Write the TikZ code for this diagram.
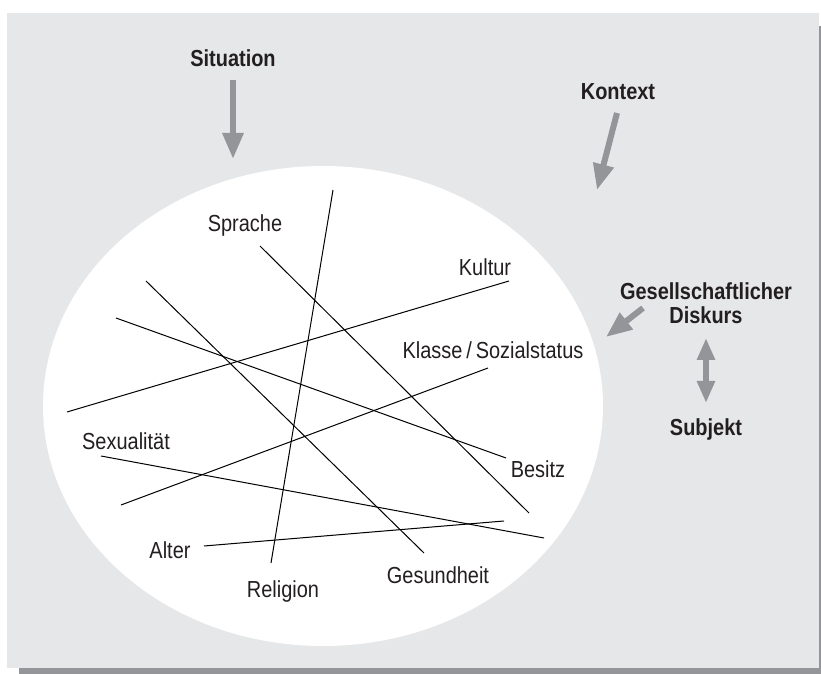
\documentclass[tikz,border=0pt]{standalone}
\usepackage{fontspec}
\setmainfont{Liberation Sans}[FakeStretch=0.86]
\usetikzlibrary{arrows.meta}
\definecolor{panelgray}{HTML}{E6E7E8}
\definecolor{arrowgray}{HTML}{939598}
\definecolor{inkc}{HTML}{231F20}
\tikzset{
  lbl/.style={text=inkc, font=\fontsize{11.6}{13}\selectfont, inner sep=0pt},
  head/.style={text=inkc, font=\fontsize{11.6}{13}\selectfont\bfseries, inner sep=0pt, align=center},
  thin line/.style={draw=black, line width=0.5pt},
  grayarrow/.style={draw=arrowgray, line width=3pt, -{Triangle[width=10pt,length=13pt]}},
  dblarrow/.style={draw=arrowgray, line width=3pt, {Triangle[width=8.5pt,length=11pt]}-{Triangle[width=8.5pt,length=11pt]}}
}
\begin{document}
\begin{tikzpicture}[x=0.5pt,y=-0.5pt]
\useasboundingbox (0,0) rectangle (821,674);
% panel and shadow
\fill[arrowgray] (19,666) rectangle (821,674);
\fill[arrowgray] (818,26) rectangle (821,674);
\fill[panelgray] (7,13) rectangle (819,668);
% ellipse
\fill[white] (323,406) ellipse [x radius=280, y radius=240];

% labels
\node[head] (situation) at (233,58) {Situation};
\node[head] (kontext) at (618,92) {Kontext};
\node[head] (gesell) at (706,303) {Gesellschaftlicher\\[-1pt]Diskurs};
\node[head] (subjekt) at (706,430) {Subjekt};
\node[lbl] (sprache) at (245,226) {Sprache};
\node[lbl] (kultur) at (485,267) {Kultur};
\node[lbl] (klasse) at (493,350) {Klasse\,/\,Sozialstatus};
\node[lbl] (sexual) at (126,441) {Sexualität};
\node[lbl] (besitz) at (538,469) {Besitz};
\node[lbl] (alter) at (170,550) {Alter};
\node[lbl] (gesund) at (438,575) {Gesundheit};
\node[lbl] (religion) at (283,592) {Religion};

% line endpoints
\coordinate (relA) at (333,190);  \coordinate (relB) at (271,563);
\coordinate (spA) at (260,246);   \coordinate (spB) at (529,513);
\coordinate (kuA) at (509,281);   \coordinate (kuB) at (67,412);
\coordinate (geA) at (146,281);   \coordinate (geB) at (424,553);
\coordinate (beA) at (116,318);   \coordinate (beB) at (506,458);
\coordinate (klA) at (488,368);   \coordinate (klB) at (121,505);
\coordinate (seA) at (101,456);   \coordinate (seB) at (544,538);
\coordinate (alA) at (204,546);   \coordinate (alB) at (504,521);

\draw[thin line] (relA) -- (relB);
\draw[thin line] (spA) -- (spB);
\draw[thin line] (kuA) -- (kuB);
\draw[thin line] (geA) -- (geB);
\draw[thin line] (beA) -- (beB);
\draw[thin line] (klA) -- (klB);
\draw[thin line] (seA) -- (seB);
\draw[thin line] (alA) -- (alB);

% gray arrows
\coordinate (sitA) at (233,80);  \coordinate (sitB) at (233,159);
\coordinate (konA) at (617,113); \coordinate (konB) at (597,190);
\coordinate (gsA) at (643,308);  \coordinate (gsB) at (606,337);
\coordinate (dbA) at (706,338);  \coordinate (dbB) at (706,403);
\draw[grayarrow] (sitA) -- (sitB);
\draw[grayarrow] (konA) -- (konB);
\draw[grayarrow] (gsA) -- (gsB);
\draw[dblarrow] (dbA) -- (dbB);
\end{tikzpicture}
\end{document}
